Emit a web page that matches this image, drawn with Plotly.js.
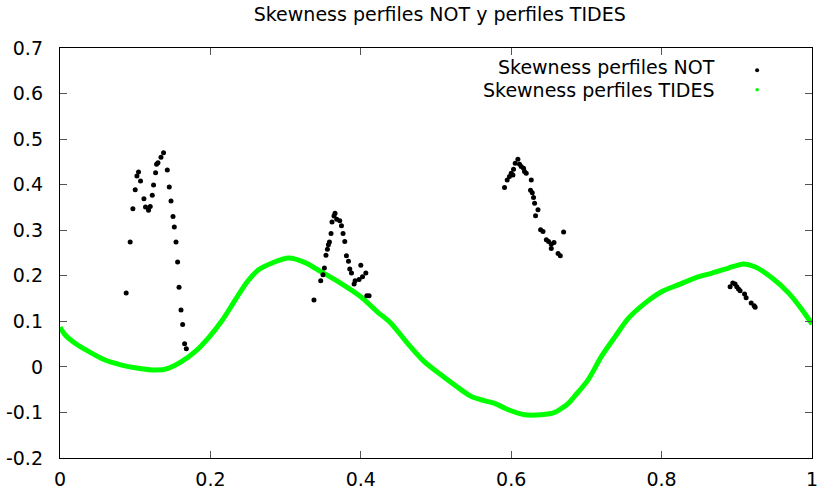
<!DOCTYPE html>
<html>
<head>
<meta charset="utf-8">
<script src="https://cdn.plot.ly/plotly-3.0.1.min.js"></script>
<style>
  html, body { margin: 0; padding: 0; background: #fff; }
  #chart { width: 825px; height: 490px; }
</style>
</head>
<body>
<div id="chart"></div>
<script>
// Skewness of NOT profiles (scattered samples)
const notX = [
  0.088, 0.0933, 0.0969, 0.1, 0.1023, 0.1044, 0.1071, 0.1116, 0.1137, 0.1177,
  0.12, 0.1227, 0.1244, 0.1271, 0.1284, 0.1303, 0.1343, 0.1377, 0.1427, 0.1453,
  0.1476, 0.1503, 0.152, 0.1543, 0.1564, 0.1583, 0.1609, 0.1631, 0.1657, 0.168,
  0.3377, 0.3467, 0.3497, 0.3516, 0.3537, 0.3556, 0.3569, 0.3583, 0.3604, 0.3617,
  0.3644, 0.3657, 0.368, 0.372, 0.3743, 0.3764, 0.3787, 0.3809, 0.3836, 0.3853,
  0.3876, 0.3911, 0.3924, 0.3977, 0.4, 0.4023, 0.4067, 0.408, 0.411,
  0.5911, 0.5947, 0.5977, 0.6, 0.6023, 0.6031, 0.6053, 0.6089, 0.6111, 0.6133,
  0.6164, 0.6177, 0.62, 0.6257, 0.6267, 0.628, 0.6297, 0.6311, 0.6324, 0.6356,
  0.6391, 0.6423, 0.6467, 0.6497, 0.6533, 0.6533, 0.6569, 0.6623, 0.6653, 0.6697,
  0.8911, 0.8947, 0.8977, 0.9, 0.9023, 0.9044, 0.9103, 0.9124, 0.9191, 0.9231, 0.9244
];
const notY = [
  0.162, 0.274, 0.347, 0.389, 0.419, 0.428, 0.408, 0.369, 0.351, 0.344,
  0.352, 0.377, 0.399, 0.426, 0.445, 0.448, 0.460, 0.470, 0.432, 0.395,
  0.364, 0.330, 0.307, 0.274, 0.230, 0.175, 0.125, 0.093, 0.051, 0.040,
  0.147, 0.189, 0.202, 0.217, 0.245, 0.258, 0.268, 0.274, 0.293, 0.318,
  0.331, 0.337, 0.324, 0.321, 0.310, 0.293, 0.275, 0.244, 0.232, 0.215,
  0.206, 0.182, 0.189, 0.192, 0.223, 0.198, 0.206, 0.156, 0.156,
  0.394, 0.410, 0.418, 0.425, 0.421, 0.434, 0.447, 0.456, 0.445, 0.440,
  0.436, 0.429, 0.425, 0.388, 0.410, 0.382, 0.372, 0.359, 0.332, 0.345,
  0.301, 0.297, 0.279, 0.275, 0.269, 0.260, 0.273, 0.249, 0.244, 0.296,
  0.176, 0.184, 0.182, 0.176, 0.171, 0.167, 0.160, 0.152, 0.140, 0.134, 0.131
];

// Skewness of TIDES profiles (continuous curve)
const tidesX = [
  0, 0.007, 0.02, 0.038, 0.06, 0.082, 0.104, 0.127, 0.144, 0.162,
  0.18, 0.198, 0.216, 0.233, 0.249, 0.264, 0.282, 0.304, 0.326, 0.347,
  0.373, 0.4, 0.422, 0.44, 0.462, 0.484, 0.507, 0.529, 0.547, 0.564,
  0.578, 0.596, 0.618, 0.64, 0.658, 0.668, 0.676, 0.684, 0.702, 0.72,
  0.738, 0.756, 0.778, 0.8, 0.822, 0.844, 0.867, 0.889, 0.909, 0.924,
  0.947, 0.969, 0.987, 1.0
];
const tidesY = [
  0.087, 0.070, 0.052, 0.034, 0.015, 0.004, -0.003, -0.007, -0.003, 0.012,
  0.034, 0.065, 0.103, 0.147, 0.187, 0.213, 0.228, 0.239, 0.229, 0.209,
  0.184, 0.154, 0.121, 0.096, 0.052, 0.012, -0.018, -0.045, -0.065, -0.074,
  -0.080, -0.094, -0.105, -0.105, -0.100, -0.090, -0.080, -0.065, -0.029, 0.023,
  0.066, 0.107, 0.140, 0.165, 0.180, 0.195, 0.206, 0.217, 0.226, 0.220,
  0.195, 0.162, 0.125, 0.094
];

const xTickVals = [0, 0.2, 0.4, 0.6, 0.8, 1];
const xTickText = ["0", "0.2", "0.4", "0.6", "0.8", "1"];
const yTickVals = [-0.2, -0.1, 0, 0.1, 0.2, 0.3, 0.4, 0.5, 0.6, 0.7];
const yTickText = ["-0.2", "-0.1", "0", "0.1", "0.2", "0.3", "0.4", "0.5", "0.6", "0.7"];

const seriesNames = ["Skewness perfiles NOT", "Skewness perfiles TIDES"];
const chartTitle = "Skewness perfiles NOT y perfiles TIDES";

const FONT = "DejaVu Sans, sans-serif";
const FS = 19;
const GREEN = "#00ff00";

const traces = [
  {
    x: tidesX, y: tidesY, type: "scatter", mode: "lines",
    name: seriesNames[1],
    line: { color: GREEN, width: 5, shape: "spline", smoothing: 0.8 },
    showlegend: false, hoverinfo: "x+y"
  },
  {
    x: notX, y: notY, type: "scatter", mode: "markers",
    name: seriesNames[0],
    marker: { color: "#000", size: 5 },
    showlegend: false, hoverinfo: "x+y"
  }
];

// gnuplot-style key: right-aligned text followed by the sample symbol
const keyTextX = 0.874, keyDotX = 0.927;
const keyTextRows = [0.953, 0.897];
const keyDotRows = [0.946, 0.898];

const layout = {
  width: 825, height: 490,
  margin: { l: 60, r: 13, t: 48, b: 32 },
  paper_bgcolor: "#fff", plot_bgcolor: "#fff",
  font: { family: FONT, size: FS, color: "#000" },
  title: {
    text: chartTitle,
    font: { family: FONT, size: 19, color: "#000" },
    xref: "paper", x: 0.505, xanchor: "center",
    yref: "container", y: 1 - 14 / 490, yanchor: "middle"
  },
  xaxis: {
    range: [0, 1], tickvals: xTickVals, ticktext: xTickText,
    ticks: "inside", ticklen: 7, tickwidth: 1, tickcolor: "#555",
    mirror: "allticks", showline: true, linecolor: "#000", linewidth: 1.2,
    showgrid: false, zeroline: false, ticklabelstandoff: 4,
    tickfont: { family: FONT, size: FS, color: "#000" }
  },
  yaxis: {
    range: [-0.2, 0.7], tickvals: yTickVals, ticktext: yTickText,
    ticks: "inside", ticklen: 7, tickwidth: 1, tickcolor: "#555",
    mirror: "allticks", showline: true, linecolor: "#000", linewidth: 1.2,
    showgrid: false, zeroline: false, ticklabelstandoff: 12,
    tickfont: { family: FONT, size: FS, color: "#000" }
  },
  annotations: seriesNames.map((name, i) => ({
    text: name, xref: "paper", yref: "paper",
    x: keyTextX, y: keyTextRows[i], xanchor: "right", yanchor: "middle",
    showarrow: false, font: { family: FONT, size: FS, color: "#000" }
  })),
  shapes: [
    { color: "#000", r: 2.0 },
    { color: GREEN, r: 1.8 }
  ].map((k, i) => ({
    type: "circle", xref: "paper", yref: "paper",
    xsizemode: "pixel", ysizemode: "pixel",
    xanchor: keyDotX, yanchor: keyDotRows[i],
    x0: -k.r, x1: k.r, y0: -k.r, y1: k.r,
    fillcolor: k.color, line: { width: 0 }
  })),
  showlegend: false
};

Plotly.newPlot("chart", traces, layout, { displayModeBar: false, staticPlot: true });
</script>
</body>
</html>
